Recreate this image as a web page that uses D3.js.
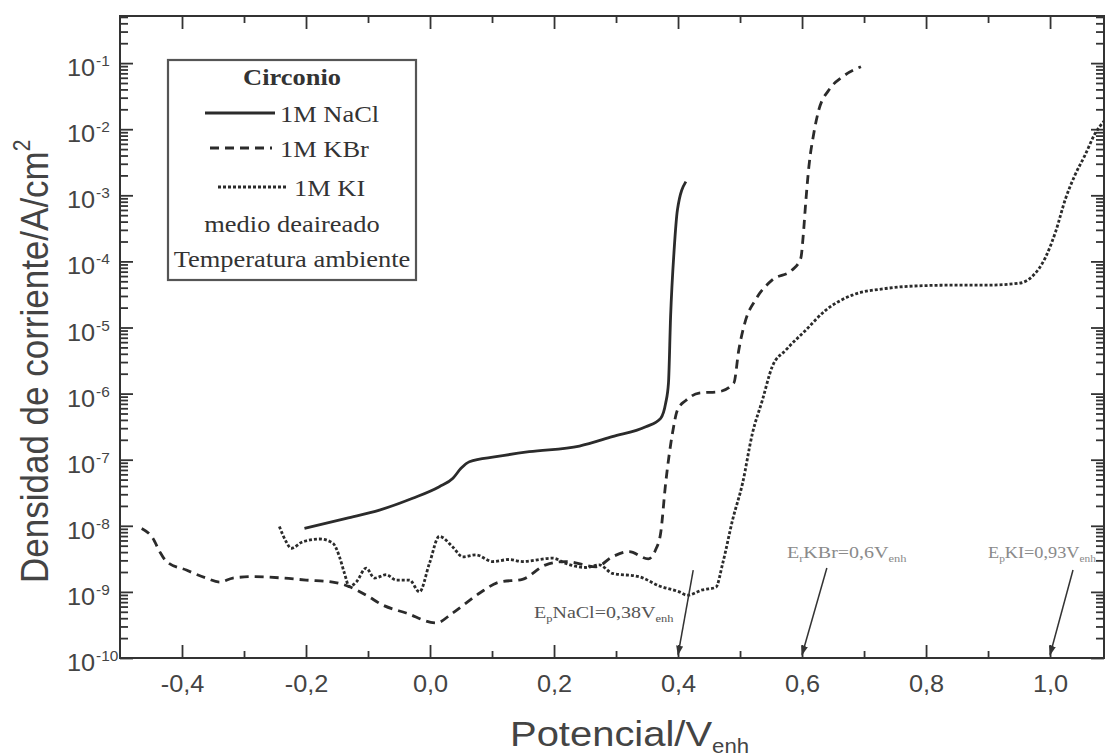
<!DOCTYPE html>
<html>
<head>
<meta charset="utf-8">
<script src="https://cdn.jsdelivr.net/npm/d3@7"></script>
<style>
  body{margin:0;background:#fff;}
  svg{display:block;}
  .sans{font-family:"Liberation Sans",Arial,helvetica,sans-serif;}
  .serif{font-family:"Liberation Serif","Times New Roman",serif;}
</style>
</head>
<body>
<div id="chart"></div>
<script>
// potencial (V_enh) and current density (A/cm2)
var naclV = [-0.2025,-0.135,-0.0815,-0.028,0.015,0.037,0.050,0.0635,0.1065,0.160,0.241,0.294,0.348,0.372,0.380,0.3846,0.388,0.3937,0.399,0.4126]
var naclI = [9.12e-9,1.30e-8,1.73e-8,2.61e-8,3.91e-8,5.24e-8,7.41e-8,9.33e-8,1.11e-7,1.32e-7,1.61e-7,2.23e-7,3.15e-7,4.23e-7,7.13e-7,1.45e-6,1.46e-5,1.49e-4,6.0e-4,1.61e-3]

var kbrV = [-0.465,-0.447,-0.436,-0.425,-0.393,-0.361,-0.339,-0.318,-0.286,-0.237,-0.200,-0.157,-0.130,-0.103,-0.076,-0.0385,0.0098,0.0366,0.0796,0.112,0.149,0.187,0.219,0.268,0.294,0.321,0.352,0.364,0.372,0.380,0.391,0.399,0.413,0.434,0.466,0.490,0.498,0.509,0.525,0.552,0.584,0.598,0.602,0.606,0.611,0.619,0.627,0.643,0.665,0.695]
var kbrI = [9.12e-9,6.46e-9,4.07e-9,2.88e-9,2.14e-9,1.62e-9,1.41e-9,1.62e-9,1.70e-9,1.62e-9,1.51e-9,1.41e-9,1.20e-9,8.91e-10,6.31e-10,4.79e-10,3.39e-10,4.79e-10,9.55e-10,1.41e-9,1.55e-9,2.57e-9,2.88e-9,2.40e-9,3.39e-9,4.07e-9,3.16e-9,4.37e-9,7.76e-9,4.37e-8,2.51e-7,5.62e-7,7.94e-7,1.02e-6,1.07e-6,1.45e-6,4.57e-6,1.29e-5,2.63e-5,5.25e-5,7.41e-5,1.12e-4,2.51e-4,7.94e-4,2.69e-3,8.71e-3,1.95e-2,3.89e-2,6.17e-2,8.81e-2]

var kiV = [-0.243,-0.232,-0.224,-0.205,-0.178,-0.157,-0.146,-0.138,-0.130,-0.119,-0.103,-0.0896,-0.0707,-0.0546,-0.0332,-0.017,-0.001,0.015,0.0366,0.0527,0.074,0.101,0.128,0.149,0.198,0.219,0.251,0.273,0.294,0.337,0.370,0.402,0.415,0.439,0.461,0.472,0.488,0.504,0.520,0.536,0.552,0.574,0.606,0.638,0.681,0.735,0.788,0.842,0.896,0.950,0.971,0.993,1.009,1.025,1.040,1.056,1.073,1.087]
var kiI = [9.77e-9,5.75e-9,4.57e-9,5.75e-9,6.31e-9,5.50e-9,3.39e-9,1.91e-9,1.20e-9,1.41e-9,2.29e-9,1.62e-9,1.82e-9,1.51e-9,1.51e-9,1.0e-9,2.69e-9,6.92e-9,4.79e-9,3.39e-9,3.63e-9,2.88e-9,3.09e-9,2.88e-9,3.24e-9,2.69e-9,2.34e-9,2.57e-9,1.91e-9,1.70e-9,1.23e-9,1.0e-9,8.91e-10,1.07e-9,1.17e-9,2.69e-9,1.23e-8,4.37e-8,2.51e-7,7.94e-7,2.57e-6,4.57e-6,9.12e-6,1.82e-5,3.09e-5,3.89e-5,4.27e-5,4.37e-5,4.37e-5,4.68e-5,5.89e-5,1.17e-4,2.82e-4,8.91e-4,2.0e-3,3.98e-3,8.71e-3,1.32e-2]

var xTicks = [-0.4,-0.2,0.0,0.2,0.4,0.6,0.8,1.0]
var xMinor = [-0.3,-0.1,0.1,0.3,0.5,0.7,0.9]
var yExp = [-10,-9,-8,-7,-6,-5,-4,-3,-2,-1]

var legendTitle = "Circonio"
var legendNames = ["1M NaCl","1M KBr","1M KI"]
var legendNotes = ["medio deaireado","Temperatura ambiente"]

// arrows: label, subscript, tip potential, tail potential, tail current
var annLabel = ["NaCl=0,38V","KBr=0,6V","KI=0,93V"]
var annSub = ["p","r","p"]
var annTip = [0.4,0.6,1.0]
var annTailV = [0.4245,0.640,1.037]
var annTailI = [2.14e-9,2.3e-9,2.14e-9]

var W = 1105, H = 756
var svg = d3.select("#chart").append("svg").attr("width",W).attr("height",H)

var x = d3.scaleLinear().domain([-0.5,1.087]).range([120,1104])
var y = d3.scaleLog().domain([1e-10,0.516]).range([658,16])
var ink = "#333"

var defs = svg.append("defs")
defs.append("clipPath").attr("id","plot")
    .append("rect").attr("x",120).attr("y",16).attr("width",984).attr("height",642)

// minor log ticks 2..9 per decade
var yMinor = []
for(var e=-10;e<=-1;e++){
    for(var m=2;m<=9;m++){
        var v = m*Math.pow(10,e)
        if(v<0.516) yMinor.push(v)
    }
}

function axisStyle(g){
    g.select(".domain").remove()
    g.selectAll("line").attr("stroke",ink).attr("stroke-width",1.8)
}

svg.append("g").attr("transform","translate(0,658)")
    .call(d3.axisBottom(x).tickValues(xTicks).tickSize(-13).tickPadding(18)
        .tickFormat(function(d){return d3.format(".1f")(d).replace(".",",").replace("\u2212","-")}))
    .call(axisStyle)
    .call(function(g){
        g.selectAll("text").attr("class","sans").attr("font-size",23).attr("fill","#444")
            .attr("font-family",null).attr("transform","scale(1.1,1)")
    })
svg.append("g").attr("transform","translate(0,658)")
    .call(d3.axisBottom(x).tickValues(xMinor).tickSize(-7).tickFormat(""))
    .call(axisStyle)
svg.append("g").attr("transform","translate(0,16)")
    .call(d3.axisTop(x).tickValues(xTicks).tickSize(-13).tickFormat(""))
    .call(axisStyle)
svg.append("g").attr("transform","translate(0,16)")
    .call(d3.axisTop(x).tickValues(xMinor).tickSize(-7).tickFormat(""))
    .call(axisStyle)

var yMajor = yExp.map(function(e){return Math.pow(10,e)})
svg.append("g").attr("transform","translate(120,0)")
    .call(d3.axisLeft(y).tickValues(yMajor).tickSize(-13).tickFormat(""))
    .call(axisStyle)
svg.append("g").attr("transform","translate(120,0)")
    .call(d3.axisLeft(y).tickValues(yMinor).tickSize(-8).tickFormat(""))
    .call(axisStyle)
svg.append("g").attr("transform","translate(1104,0)")
    .call(d3.axisRight(y).tickValues(yMajor).tickSize(-13).tickFormat(""))
    .call(axisStyle)
svg.append("g").attr("transform","translate(1104,0)")
    .call(d3.axisRight(y).tickValues(yMinor).tickSize(-8).tickFormat(""))
    .call(axisStyle)

// y tick labels 10^n
var yl = svg.append("g").selectAll("g").data(yExp).enter().append("g")
    .attr("transform",function(d){return "translate(95,"+(y(Math.pow(10,d))+13)+") scale(1.1,1)"})
yl.append("text").attr("class","sans").attr("fill","#444").attr("font-size",23)
    .attr("text-anchor","end").text("10")
yl.append("text").attr("class","sans").attr("fill","#444").attr("font-size",14)
    .attr("x",1).attr("y",-10).text(function(d){return "-"+Math.abs(d)})

// frame
svg.append("rect").attr("x",120).attr("y",16).attr("width",984).attr("height",642)
    .attr("fill","none").attr("stroke",ink).attr("stroke-width",2)

// curves
var line = d3.line().x(function(d){return x(d[0])}).y(function(d){return y(d[1])}).curve(d3.curveMonotoneX)
var series = [
    {v:naclV, i:naclI, dash:null},
    {v:kbrV, i:kbrI, dash:"9,6"},
    {v:kiV, i:kiI, dash:"3,2"}
]
svg.append("g").attr("clip-path","url(#plot)").selectAll("path").data(series).enter().append("path")
    .attr("d",function(s){return line(s.v.map(function(v,k){return [v,s.i[k]]}))})
    .attr("fill","none").attr("stroke","#2b2b2b").attr("stroke-width",2.8)
    .attr("stroke-dasharray",function(s){return s.dash})

// legend
var lg = svg.append("g")
lg.append("rect").attr("x",168).attr("y",60).attr("width",248).attr("height",220)
    .attr("fill","#fff").attr("stroke","#555").attr("stroke-width",2.2)
lg.append("text").attr("class","serif").attr("font-size",23).attr("font-weight","bold").attr("fill","#333")
    .attr("text-anchor","middle").attr("transform","translate(292,85) scale(1.15,1)").text(legendTitle)
var rowY = [113,148,187]
var rowX1 = [205,210,218], rowX2 = [275,272,287], rowTx = [280,280,294]
legendNames.forEach(function(n,k){
    lg.append("line").attr("x1",rowX1[k]).attr("x2",rowX2[k]).attr("y1",rowY[k]).attr("y2",rowY[k])
        .attr("stroke","#2b2b2b").attr("stroke-width",2.8).attr("stroke-dasharray",series[k].dash)
    lg.append("text").attr("class","serif").attr("font-size",23).attr("fill","#333")
        .attr("transform","translate("+rowTx[k]+","+(rowY[k]+8.5)+") scale(1.15,1)").text(n)
})
var noteY = [232,267]
legendNotes.forEach(function(n,k){
    lg.append("text").attr("class","serif").attr("font-size",23).attr("fill","#333")
        .attr("text-anchor","middle").attr("transform","translate(292,"+noteY[k]+") scale(1.15,1)").text(n)
})

// arrows + labels
defs.append("marker").attr("id","head").attr("viewBox","0 0 10 10").attr("refX",9).attr("refY",5)
    .attr("markerWidth",10).attr("markerHeight",10).attr("markerUnits","userSpaceOnUse")
    .attr("orient","auto")
    .append("path").attr("d","M0,1.5 L10,5 L0,8.5 Z").attr("fill","#333")
var annTextX = [534,787,988], annTextY = [618,558,558], annScale = [1.25,1.25,1.14]
var annColor = ["#555","#8a8a8a","#8a8a8a"]
annLabel.forEach(function(t,k){
    svg.append("line").attr("x1",x(annTailV[k])).attr("y1",y(annTailI[k]))
        .attr("x2",x(annTip[k])).attr("y2",y(1.12e-10))
        .attr("stroke","#333").attr("stroke-width",1.5).attr("marker-end","url(#head)")
    var tx = svg.append("text").attr("class","serif").attr("fill",annColor[k]).attr("font-size",16)
        .attr("transform","translate("+annTextX[k]+","+annTextY[k]+") scale("+annScale[k]+",1)")
    tx.append("tspan").text("E")
    tx.append("tspan").attr("font-size",10).attr("dy",4).text(annSub[k])
    tx.append("tspan").attr("dy",-4).text(t)
    tx.append("tspan").attr("font-size",10).attr("dy",4).text("enh")
})

// axis titles
var xt = svg.append("text").attr("class","sans").attr("fill","#444")
    .attr("transform","translate(510,746) scale(1.11,1)")
xt.append("tspan").attr("font-size",36).text("Potencial/V")
xt.append("tspan").attr("font-size",20).attr("dy",7).text("enh")

var yt = svg.append("text").attr("class","sans").attr("fill","#444")
    .attr("transform","translate(48,583) scale(1.1,1) rotate(-90)")
yt.append("tspan").attr("font-size",35).text("Densidad de corriente/A/cm")
yt.append("tspan").attr("font-size",21).attr("dy",-16).text("2")
</script>
</body>
</html>
